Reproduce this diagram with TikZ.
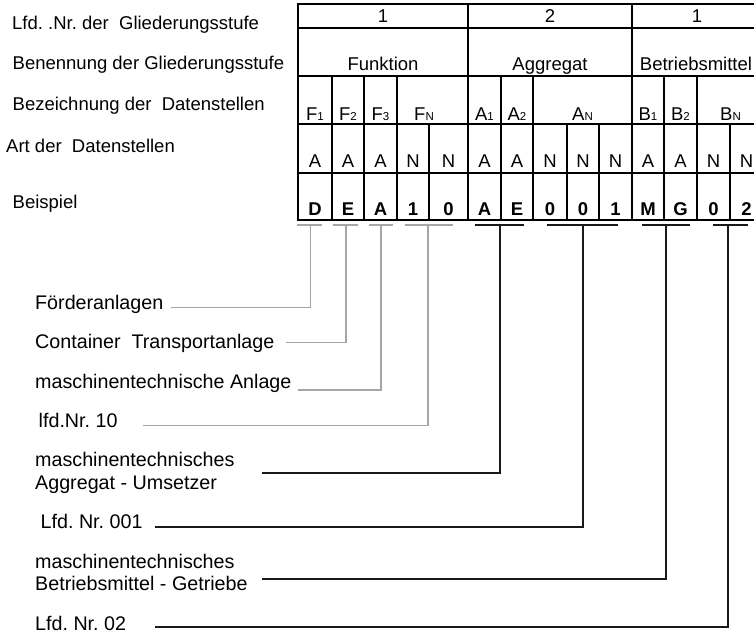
\documentclass[tikz,border=0pt]{standalone}
\usepackage{fontspec}
\setmainfont{Liberation Sans}

% kleine Indizes
\newcommand{\idx}[1]{{\fontsize{11.5}{12}\selectfont #1}}

\tikzset{
  tab/.style={line width=2.8pt, line join=miter},
  txt/.style={font=\fontsize{18.5}{22.7}\selectfont\frenchspacing, inner sep=0pt, anchor=base},
  fett/.style={txt, font=\fontsize{18.5}{22.7}\selectfont\bfseries},
  zeile/.style={txt, anchor=base west},
  lbl/.style={txt, anchor=base west, align=left, font=\fontsize{19.7}{22.6}\selectfont\frenchspacing},
  duenn/.style={gray!70, line width=1.3pt},
  dick/.style={black!90, line width=1.7pt},
}

\begin{document}
\begin{tikzpicture}[x=1pt, y=-1pt]
    \useasboundingbox (0,0) rectangle (754,636);

    % Zeilenbeschriftung links
    \node[zeile] (stufe) at (12,29.5) {Lfd. .Nr. der\ \ Gliederungsstufe};
    \node[zeile] (benennung) at (12.5,69.5) {Benennung der Gliederungsstufe};
    \node[zeile] (bezeichnung) at (12.5,110.5) {Bezeichnung der\ \ Datenstellen};
    \node[zeile] (art) at (6,152.5) {Art der\ \ Datenstellen};
    \node[zeile] (beispiel) at (12.5,208.5) {Beispiel};

    % Tabelle
    \draw[tab] (298,4) rectangle (763,220);
    \foreach \y in {28, 76, 124, 173}
        \draw[tab] (298,\y) -- (763,\y);
    \foreach \x in {468, 632}
        \draw[tab] (\x,4) -- (\x,220);
    \foreach \x in {332, 364, 397, 501, 533, 664, 697}
        \draw[tab] (\x,76) -- (\x,220);
    \foreach \x in {429, 567, 599, 730}
        \draw[tab] (\x,124) -- (\x,220);

    % Lfd. Nr. und Benennung
    \node[txt] (nrF) at (383,22.7) {1};
    \node[txt] (nrA) at (550,22.7) {2};
    \node[txt] (nrB) at (697,22.7) {1};
    \node[txt] (funktion) at (383,71) {Funktion};
    \node[txt] (aggregat) at (550,71) {Aggregat};
    \node[txt] (betriebsmittel) at (696,71) {Betriebsmittel};

    % Bezeichnung der Datenstellen
    \node[txt] (f1) at (315,120.7) {F\idx{1}};
    \node[txt] (f2) at (348,120.7) {F\idx{2}};
    \node[txt] (f3) at (380.5,120.7) {F\idx{3}};
    \node[txt] (fn) at (424,120.7) {F\idx{N}};
    \node[txt] (a1) at (484.5,120.7) {A\idx{1}};
    \node[txt] (a2) at (517,120.7) {A\idx{2}};
    \node[txt] (an) at (582.5,120.7) {A\idx{N}};
    \node[txt] (b1) at (648,120.7) {B\idx{1}};
    \node[txt] (b2) at (680.5,120.7) {B\idx{2}};
    \node[txt] (bn) at (730.5,120.7) {B\idx{N}};

    % Art der Datenstellen und Beispiel
    \foreach \x/\t [count=\i] in {315/A, 348/A, 380.5/A, 413/N, 448.5/N, 484.5/A, 517/A,
            550/N, 583/N, 615.5/N, 648/A, 680.5/A, 713.5/N, 746.5/N}
        \node[txt] (art\i) at (\x,167.7) {\t};
    \foreach \x/\t [count=\i] in {315/D, 348/E, 380.5/A, 413/1, 448.5/0, 484.5/A, 517/E,
            550/0, 583/0, 615.5/1, 648/M, 680.5/G, 713.5/0, 746.5/2}
        \node[fett] (bsp\i) at (\x,215) {\t};

    % Klammern unter der Tabelle
    \draw[duenn] (297,225) -- (322,225);
    \draw[duenn] (333,225) -- (358,225);
    \draw[duenn] (369,225) -- (393,225);
    \draw[duenn] (405,225) -- (453,225);
    \draw[dick] (475,225) -- (524,225);
    \draw[dick] (547,225) -- (618,225);
    \draw[dick] (642,225) -- (690,225);
    \draw[dick] (713,225) -- (748,225);

    % Erlaeuterungen
    \node[lbl] (foerder) at (35,309.3) {Förderanlagen};
    \node[lbl] (container) at (35,348.3) {Container\ \ Transportanlage};
    \node[lbl] (anlage) at (35,388.3) {maschinentechnische Anlage};
    \node[lbl] (lfdzehn) at (38.5,427.7) {lfd.Nr. 10};
    \node[lbl] (umsetzer) at (35,489.3) {maschinentechnisches\\Aggregat - Umsetzer};
    \node[lbl] (lfdeins) at (40.5,528.3) {Lfd. Nr. 001};
    \node[lbl] (getriebe) at (35,590.7) {maschinentechnisches\\Betriebsmittel - Getriebe};
    \node[lbl] (lfdzwei) at (35,630) {Lfd. Nr. 02};

    % Anschlusspunkte
    \coordinate (kD) at (310.7,225);   \coordinate (eD) at (171,307.7);
    \coordinate (kE) at (346,225);     \coordinate (eE) at (286,342.7);
    \coordinate (kA) at (381,225);     \coordinate (eA) at (298,390);
    \coordinate (kF) at (428,225);     \coordinate (eF) at (143,425.7);
    \coordinate (kAE) at (500,225);    \coordinate (eAE) at (262,472.7);
    \coordinate (kAN) at (583,225);    \coordinate (eAN) at (155,526.7);
    \coordinate (kMG) at (666,225);    \coordinate (eMG) at (262,579);
    \coordinate (kBN) at (728,225);    \coordinate (eBN) at (155,626.7);

    \draw[duenn] (kD) |- (eD);
    \draw[duenn] (kE) |- (eE);
    \draw[duenn] (kA) |- (eA);
    \draw[duenn] (kF) |- (eF);
    \draw[dick] (kAE) |- (eAE);
    \draw[dick] (kAN) |- (eAN);
    \draw[dick] (kMG) |- (eMG);
    \draw[dick] (kBN) |- (eBN);
\end{tikzpicture}
\end{document}
